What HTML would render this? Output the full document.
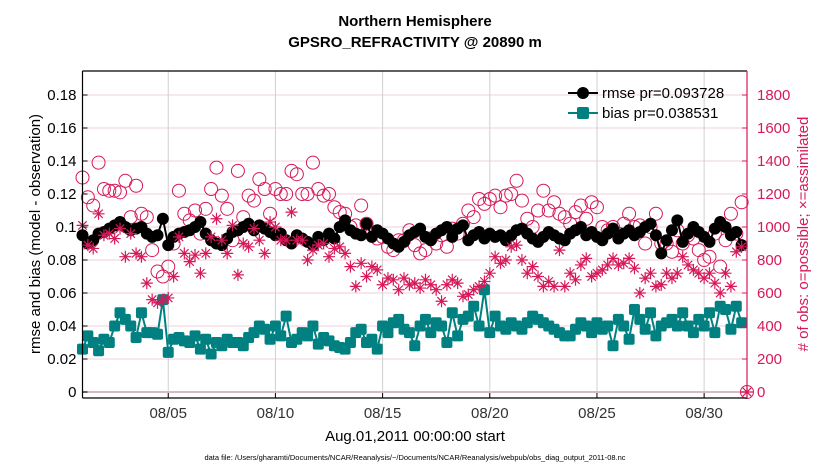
<!DOCTYPE html>
<html><head><meta charset="utf-8"><style>
body{margin:0;background:#fff;}
svg{display:block;font-family:"Liberation Sans",sans-serif;}
</style></head><body>
<svg id="chart" width="830" height="470" viewBox="0 0 830 470" xmlns="http://www.w3.org/2000/svg">
<text x="415" y="26" text-anchor="middle" font-weight="bold" font-size="15">Northern Hemisphere</text>
<text x="415" y="47" text-anchor="middle" font-weight="bold" font-size="15">GPSRO_REFRACTIVITY @ 20890 m</text>
<g id="grid"></g>
<g id="series"></g>
<g id="axes"></g>
<text transform="translate(40,234) rotate(-90)" text-anchor="middle" font-size="15">rmse and bias (model - observation)</text>
<text transform="translate(808,234) rotate(-90)" text-anchor="middle" font-size="15" fill="#d6195a"># of obs: o=possible; ×=assimilated</text>
<text x="415" y="441" text-anchor="middle" font-size="15">Aug.01,2011 00:00:00 start</text>
<text x="415" y="460" text-anchor="middle" font-size="7.5">data file: /Users/gharamti/Documents/NCAR/Reanalysis/~/Documents/NCAR/Reanalysis/webpub/obs_diag_output_2011-08.nc</text>
<g>
<line x1="568" y1="93" x2="598" y2="93" stroke="#000" stroke-width="2"/>
<circle cx="583" cy="93" r="6" fill="#000"/>
<text x="602" y="98" font-size="15">rmse pr=0.093728</text>
<line x1="568" y1="113" x2="598" y2="113" stroke="#008080" stroke-width="2"/>
<rect x="577" y="107" width="12" height="12" rx="2" fill="#008080"/>
<text x="602" y="118" font-size="15">bias pr=0.038531</text>
</g>
</svg>
<script>
const rmse=[95,90,92,96,97,99,101,103,100,98,99,100,96,94,95,105,89,94,96,97,98,100,103,96,92,90,89,93,97,98,100,102,98,101,99,97,95,96,92,90,95,93,91,89,94,92,96,93,100,104,98,96,95,102,94,98,96,93,90,88,91,95,97,99,94,92,96,98,100,94,99,101,92,95,97,93,96,94,95,92,95,98,99,96,93,91,94,97,95,93,92,96,98,100,95,97,94,92,96,99,93,96,98,95,97,100,102,95,84,92,98,104,91,96,100,97,94,91,99,103,100,95,97,89];
const bias=[26,34,30,25,32,30,40,48,44,40,33,48,36,36,35,56,24,32,33,31,30,34,26,32,23,30,28,32,30,30,28,33,36,40,38,32,40,34,46,30,32,36,34,40,29,33,31,28,27,26,30,36,38,30,32,26,40,36,42,44,38,36,28,40,44,36,42,40,30,48,34,44,46,52,40,62,36,46,40,38,42,40,38,42,46,44,42,40,38,36,34,34,38,42,40,36,42,38,40,28,44,40,32,50,44,38,48,34,40,42,44,40,48,40,36,44,40,48,36,52,50,38,52,42];
const obsPossible=[1300,1180,1130,1390,1230,1220,1220,1210,1280,1060,1250,1080,1060,860,730,700,760,900,1220,1080,1040,1100,960,1110,1230,1360,1190,1110,920,1340,1060,1190,1160,1290,1230,1080,1230,1200,1200,1340,1320,1200,1200,1390,1230,1190,1200,1120,1090,1080,1000,1010,1130,1020,960,930,940,880,860,920,920,980,890,840,860,930,900,950,880,990,960,1020,1100,1060,1170,1140,1170,1190,1120,1190,1200,1280,1160,1050,1000,1100,1220,1100,1150,1080,1060,1020,1090,1130,1050,1150,1120,1000,980,1000,960,1020,1080,1000,1010,900,1000,1080,900,900,850,980,900,950,930,860,800,820,960,760,920,1080,960,1150,0];
const obsAssim=[1010,890,870,1080,950,960,930,990,820,960,840,820,660,560,540,560,570,700,940,840,790,830,720,840,940,1050,920,840,1010,710,900,880,990,920,840,1030,1000,920,920,1090,920,920,800,860,890,900,820,870,880,840,760,640,780,700,760,740,650,690,680,620,690,650,660,630,680,650,620,550,650,680,660,580,590,620,640,670,720,820,780,800,880,890,800,720,760,700,640,670,640,860,640,720,680,770,810,700,720,740,770,810,770,780,810,750,600,690,720,640,650,720,690,720,820,770,740,720,690,720,660,600,720,640,850,880,0];
const yTicks=["0","0.02","0.04","0.06","0.08","0.1","0.12","0.14","0.16","0.18"];
const y2Ticks=["0","200","400","600","800","1000","1200","1400","1600","1800"];
const xTickDays=[4,9,14,19,24,29];
const xTickLabels=["08/05","08/10","08/15","08/20","08/25","08/30"];

const L=82.5,R=747,T=71,B=398,Y0=392,PPU=33/0.02;
const X=d=>L+(R-L)*d/31;
const Y=v=>Y0-v*PPU;
const Y2=c=>Y0-c/10000*PPU;
const NS="http://www.w3.org/2000/svg";
function mk(tag,attrs,parent){const e=document.createElementNS(NS,tag);for(const k in attrs)e.setAttribute(k,attrs[k]);parent.appendChild(e);return e;}
const grid=document.getElementById('grid'),ser=document.getElementById('series'),ax=document.getElementById('axes');

yTicks.forEach((t,i)=>{const y=Y(i*0.02);
 if(i>0){const g=mk('line',{x1:L,x2:R,y1:y,y2:y,stroke:'#f3cfdc','stroke-width':1},grid);
 
 }
 const tx=mk('text',{x:L-6,y:y+5,'text-anchor':'end','font-size':15},ax);tx.textContent=t;
 
 
 mk('line',{x1:L,x2:L+5,y1:y,y2:y,stroke:'#000'},ax);
 const t2=mk('text',{x:R+10,y:y+5,'font-size':15,fill:'#d6195a'},ax);t2.textContent=y2Ticks[i];
 
 
 mk('line',{x1:R-5,x2:R,y1:y,y2:y,stroke:'#d6195a'},ax);
});
xTickDays.forEach((d,i)=>{const x=X(d);
 const g=mk('line',{x1:x,x2:x,y1:T,y2:B,stroke:'#d0d0d0','stroke-width':1},grid);
 
 
 mk('line',{x1:x,x2:x,y1:B,y2:B-5,stroke:'#000'},ax);
 const tx=mk('text',{x:x,y:B+20,'text-anchor':'middle','font-size':15,fill:'#333'},ax);tx.textContent=xTickLabels[i];
 
 
});
mk('line',{x1:L,x2:R,y1:Y0,y2:Y0,stroke:'#d8b8c4','stroke-width':2},grid);

obsPossible.forEach((c,i)=>{const x=i<124?X(i*0.25):X(31);
 const e=mk('circle',{cx:x,cy:Y2(c),r:6.5,fill:'none',stroke:'#d6195a','stroke-width':1},ser);
 
 });
mk('polyline',{points:rmse.map((v,i)=>X(i*0.25)+','+Y(v/1000)).join(' '),fill:'none',stroke:'#000','stroke-width':2},ser);
rmse.forEach((v,i)=>{const e=mk('circle',{cx:X(i*0.25),cy:Y(v/1000),r:6,fill:'#000'},ser);
 
 });
mk('polyline',{points:bias.map((v,i)=>X(i*0.25)+','+Y(v/1000)).join(' '),fill:'none',stroke:'#008080','stroke-width':2},ser);
bias.forEach((v,i)=>{const x=X(i*0.25),y=Y(v/1000);
 const e=mk('rect',{x:x-5.5,y:y-5.5,width:11,height:11,rx:2,fill:'#008080'},ser);
 
 });
obsAssim.forEach((c,i)=>{const x=i<124?X(i*0.25):X(31),y=Y2(c),s=6;
 const d=`M${x-s},${y}H${x+s}M${x},${y-s}V${y+s}M${x-4.2},${y-4.2}L${x+4.2},${y+4.2}M${x-4.2},${y+4.2}L${x+4.2},${y-4.2}`;
 const e=mk('path',{d:d,stroke:'#d6195a','stroke-width':1.2,fill:'none'},ser);
 
 });
mk('line',{x1:L,x2:L,y1:T,y2:B,stroke:'#000','stroke-width':1.2},ax);
mk('line',{x1:L,x2:R,y1:T,y2:T,stroke:'#000','stroke-width':1.2},ax);
mk('line',{x1:L,x2:R,y1:B,y2:B,stroke:'#000','stroke-width':1.2},ax);
mk('line',{x1:R,x2:R,y1:T,y2:B,stroke:'#d6195a','stroke-width':1.2},ax);
</script>
</body></html>
